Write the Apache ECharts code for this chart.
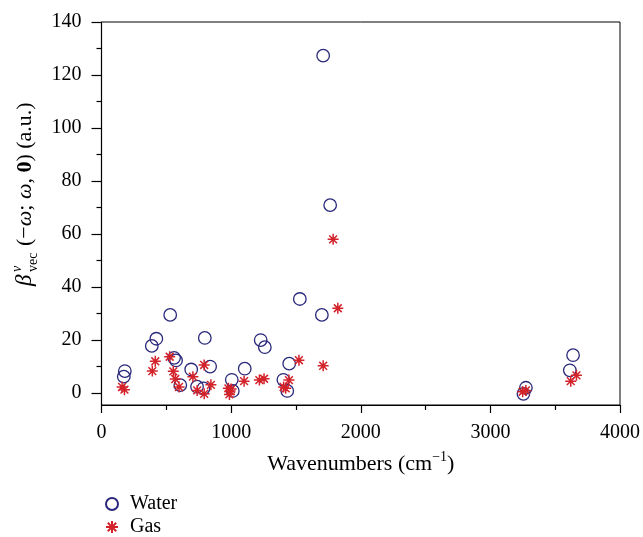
<!DOCTYPE html>
<html>
<head>
<meta charset="utf-8">
<script src="https://cdn.jsdelivr.net/npm/echarts@6/dist/echarts.min.js"></script>
<style>html,body{margin:0;padding:0;background:#fff;}#c{width:643px;height:537px;}</style>
</head>
<body>
<div id="c"></div>
<script>
// Water: [wavenumber (cm^-1), beta]
const waterData = [
  [1710, 127.3], [1764, 70.9], [1530, 35.5], [1700, 29.5], [530, 29.5],
  [423, 20.5], [388, 17.8], [797, 20.8], [1228, 20.0], [1260, 17.3],
  [560, 13.3], [575, 12.3], [180, 8.3], [172, 6.2], [692, 8.9],
  [838, 10.0], [1105, 9.2], [1448, 11.1], [1005, 5.0], [1403, 5.0],
  [1433, 0.8], [608, 3.0], [737, 2.4], [787, 1.8], [1013, 0.8],
  [3274, 2.0], [3255, -0.3], [3613, 8.6], [3638, 14.3]
];
// Gas
const gasData = [
  [159, 2.3], [177, 1.3], [392, 8.3], [415, 12.0], [526, 13.7],
  [554, 8.2], [569, 5.3], [598, 2.3], [705, 6.2], [738, 1.0],
  [792, -0.3], [792, 10.6], [844, 3.1], [979, 1.8], [992, 0.8],
  [987, -0.5], [1000, 1.5], [1100, 4.5], [1218, 4.9], [1254, 5.4],
  [1405, 2.3], [1421, 1.8], [1446, 4.9], [1523, 12.4], [1710, 10.3],
  [1823, 32.0], [1787, 58.0], [3249, 0.5], [3274, 1.0], [3620, 4.5], [3664, 6.7]
];
const seriesNames = ['Water', 'Gas'];
const yTicks = [0, 20, 40, 60, 80, 100, 120, 140];
const yMinorTicks = [10, 30, 50, 70, 90, 110, 130];
const xTicks = [0, 1000, 2000, 3000, 4000];

const FONT = '"Liberation Serif", "DejaVu Serif", serif';
const asterisk = 'path://M0,5L10,5M5,0L5,10M1.46,1.46L8.54,8.54M8.54,1.46L1.46,8.54';

const legendBase = {
  orient: 'vertical', left: 100, itemWidth: 14, itemHeight: 12,
  textStyle: {fontFamily: FONT, fontSize: 20, color: '#000', padding: [0, 0, 0, 6]}
};

const chart = echarts.init(document.getElementById('c'), null, {renderer: 'canvas'});
chart.setOption({
  animation: false,
  backgroundColor: '#fff',
  grid: {left: 101.5, right: 21.5, top: 22, bottom: 132, show: true, borderColor: '#000', borderWidth: 1},
  xAxis: {
    type: 'value', min: xTicks[0], max: xTicks[xTicks.length - 1], interval: 1000,
    axisLine: {show: true, onZero: false, lineStyle: {color: '#000', width: 1.2}},
    axisTick: {show: true, inside: false, length: 8, lineStyle: {color: '#000', width: 1.2}},
    minorTick: {show: true, splitNumber: 2, length: 5, lineStyle: {color: '#000', width: 1.2}},
    splitLine: {show: false},
    axisLabel: {margin: 18, color: '#000', fontFamily: FONT, fontSize: 20, formatter: v => String(v)},
    name: '{a|Wavenumbers (cm}{s|−1}{a|)}',
    nameLocation: 'middle', nameGap: 45,
    nameTextStyle: {
      rich: {
        a: {fontFamily: FONT, fontSize: 22, color: '#000', lineHeight: 28},
        s: {fontFamily: FONT, fontSize: 14, color: '#000', lineHeight: 14, verticalAlign: 'top'}
      }
    }
  },
  yAxis: [{
    type: 'value', min: -4.5, max: 140, position: 'left',
    axisLine: {show: true, onZero: false, lineStyle: {color: '#000', width: 1.2}},
    axisTick: {show: true, inside: false, length: 10, customValues: yTicks, lineStyle: {color: '#000', width: 1.2}},
    axisLabel: {margin: 20, color: '#000', fontFamily: FONT, fontSize: 20, customValues: yTicks, formatter: v => String(v)},
    splitLine: {show: false}
  }, {
    type: 'value', min: -4.5, max: 140, position: 'left',
    axisLine: {show: false, onZero: false},
    axisTick: {show: true, inside: false, length: 5, customValues: yMinorTicks, lineStyle: {color: '#000', width: 1.2}},
    axisLabel: {show: false},
    splitLine: {show: false}
  }],
  legend: [
    Object.assign({}, legendBase, {top: 489, data: [seriesNames[0]]}),
    Object.assign({}, legendBase, {top: 512, data: [seriesNames[1]]})
  ],
  graphic: [{
    type: 'group', x: 25, y: 286, rotation: Math.PI / 2,
    children: [
      {type: 'text', x: 0, y: 0, style: {text: 'β', fontFamily: FONT, fontSize: 23, fontStyle: 'italic', fill: '#000', align: 'left', verticalAlign: 'middle'}},
      {type: 'text', x: 14, y: -8, style: {text: 'ν', fontFamily: FONT, fontSize: 14, fontStyle: 'italic', fill: '#000', align: 'left', verticalAlign: 'middle'}},
      {type: 'text', x: 14, y: 8, style: {text: 'vec', fontFamily: FONT, fontSize: 14, fill: '#000', align: 'left', verticalAlign: 'middle'}},
      {type: 'text', x: 40, y: 0, style: {
        text: '{n|(−}{i|ω}{n|; }{i|ω}{n|, }{b|0}{n|) (a.u.)}',
        align: 'left', verticalAlign: 'middle',
        rich: {
          n: {fontFamily: FONT, fontSize: 22, fill: '#000'},
          i: {fontFamily: FONT, fontSize: 22, fontStyle: 'italic', fill: '#000'},
          b: {fontFamily: FONT, fontSize: 22, fontWeight: 'bold', fill: '#000'}
        }
      }}
    ]
  }],
  series: [{
    name: seriesNames[0], type: 'scatter', yAxisIndex: 0, data: waterData,
    symbol: 'circle', symbolSize: 12.5,
    itemStyle: {color: 'rgba(0,0,0,0)', borderColor: '#29287a', borderWidth: 1.3, opacity: 1}
  }, {
    name: seriesNames[1], type: 'scatter', yAxisIndex: 0, data: gasData,
    symbol: asterisk, symbolSize: 11,
    itemStyle: {color: '#d3222a', borderColor: '#d3222a', borderWidth: 1.5, opacity: 1}
  }]
});
</script>
</body>
</html>
